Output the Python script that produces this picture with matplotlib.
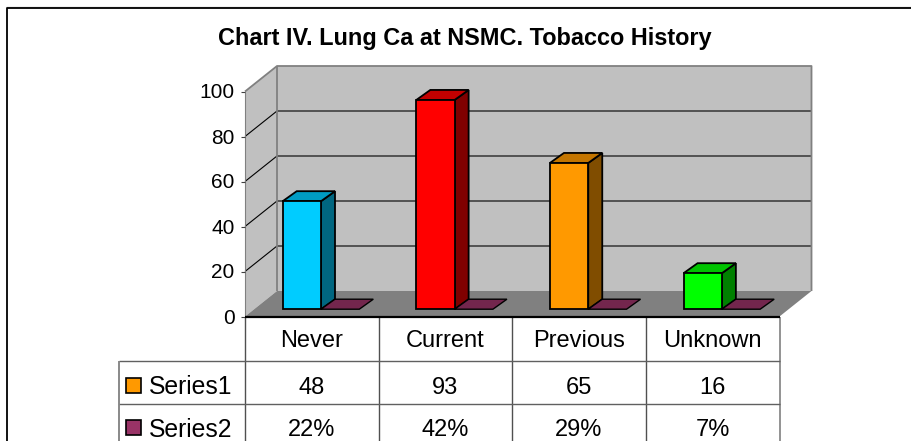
#!/usr/bin/env python3

import matplotlib
matplotlib.use('Agg')
import matplotlib.pyplot as plt
from matplotlib.patches import Polygon, Rectangle

title = 'Chart IV. Lung Ca at NSMC. Tobacco History'
categories = ['Never', 'Current', 'Previous', 'Unknown']
series1 = [48, 93, 65, 16]
series2 = [22, 42, 29, 7]
series_names = ['Series1', 'Series2']
y_ticks = [0, 20, 40, 60, 80, 100]

front_colors = ['#00ccff', '#ff0000', '#ff9900', '#00ff00']
top_colors = ['#009cc3', '#c30000', '#c37500', '#00c300']
side_colors = ['#006680', '#800000', '#804d00', '#008000']

W, H = 912, 441
plt.rcParams['font.family'] = ['Liberation Sans', 'DejaVu Sans']

fig = plt.figure(figsize=(W / 100, H / 100), dpi=100)

# frame is drawn in figure pixels
bg = fig.add_axes([0, 0, 1, 1])
bg.set_xlim(0, W)
bg.set_ylim(H, 0)
bg.axis('off')
bg.plot([7, 912], [7, 7], color='#c0c0c0', lw=1)
bg.plot([7, 7, 912], [441, 8, 8], color='black', lw=1.3)

# main axes is the front plane of the 3D box
left, right, y0, y100 = 245, 779.5, 316.5, 91.5
ax = fig.add_axes([left / W, 1 - y0 / H, (right - left) / W, (y0 - y100) / H])
ax.set_xlim(0, 4)
ax.set_ylim(0, 100)
ax.axis('off')

ux = (right - left) / 4
uy = (y0 - y100) / 100
DX = 32 / ux
DY = 25.5 / uy
bar_x = 37.7 / ux
bar_w = 38.3 / ux
bar_y = 7.3 / uy
bar_dx = 14 / ux
bar_dy = 10 / uy


def poly(pts, fc, ec='none', lw=0, z=1):
    ax.add_patch(Polygon(pts, closed=True, fc=fc, ec=ec, lw=lw, zorder=z,
                         clip_on=False, joinstyle='miter'))


def line(xs, ys, c='black', lw=1, z=2):
    ax.plot(xs, ys, color=c, lw=lw, zorder=z, clip_on=False,
            solid_capstyle='butt')


# walls and floor
poly([(DX, DY), (4 + DX, DY), (4 + DX, 100 + DY), (DX, 100 + DY)], '#c0c0c0')
poly([(0, 0), (DX, DY), (DX, 100 + DY), (0, 100)], '#c0c0c0')
poly([(0, 0), (4, 0), (4 + DX, DY), (DX, DY)], '#808080')

# gridlines
for t in y_ticks[1:-1]:
    line([0, DX, 4 + DX], [t, t + DY, t + DY], lw=0.8)
line([0, DX, 4 + DX, 4 + DX], [100, 100 + DY, 100 + DY, DY], c='#808080', lw=1.3)
line([DX, DX], [DY, 100 + DY], c='#808080', lw=1.3)

# y axis and ticks
line([0, 0], [0, 100], c='#808080', lw=0.8, z=3)
for t in y_ticks:
    line([-4 / ux, 0], [t, t], c='#404040', lw=0.8, z=3)
    ax.text(-10.5 / ux, t - 1.5 / uy, str(t), ha='right', va='center', fontsize=15)

# bars
for i, v in enumerate(series1):
    x0 = i + bar_x
    x1 = x0 + bar_w
    b = bar_y
    t = bar_y + v
    poly([(x1, b), (x1 + bar_dx, b + bar_dy), (x1 + bar_dx, t + bar_dy), (x1, t)],
         side_colors[i], 'black', 1.3, 5)
    poly([(x0, t), (x1, t), (x1 + bar_dx, t + bar_dy), (x0 + bar_dx, t + bar_dy)],
         top_colors[i], 'black', 1.3, 5)
    poly([(x0, b), (x1, b), (x1, t), (x0, t)], front_colors[i], 'black', 1.3, 6)
    # second series is flat on the floor
    x2 = x1 + bar_w
    poly([(x1, b), (x2, b), (x2 + bar_dx, b + bar_dy), (x1 + bar_dx, b + bar_dy)],
         '#73264d', 'black', 1.0, 5)

# data table
row1 = -44.5 / uy
row2 = -87.5 / uy
tbl_bottom = -(H - y0 + 2) / uy
tbl_left = -126 / ux
text_y = [-24.5 / uy, -71 / uy, -113.5 / uy]
key_y = [-68.5 / uy, -111 / uy]

line([0, 4], [0, 0], lw=1.6, z=4)
for k in range(4):
    line([k, k], [0, tbl_bottom], c='#505050', lw=1)
line([4, 4], [0, tbl_bottom], c='#808080', lw=1.2)
line([tbl_left, 4], [row1, row1], c='#606060', lw=1)
line([tbl_left, 4], [row2, row2], c='#606060', lw=1)
line([tbl_left, tbl_left], [row1, tbl_bottom], c='#808080', lw=1.3)

for k, name in enumerate(categories):
    ax.text(k + 0.5, text_y[0], name, ha='center', va='center', fontsize=17)
    ax.text(k + 0.5, text_y[1], str(series1[k]), ha='center', va='center', fontsize=17)
    ax.text(k + 0.5, text_y[2], '%d%%' % series2[k], ha='center', va='center', fontsize=17)

key_colors = ['#ff9900', '#993366']
for name, c, ky, ty in zip(series_names, key_colors, key_y, text_y[1:]):
    ax.add_patch(Rectangle((tbl_left + 7.5 / ux, ky - 7.5 / uy), 15 / ux, 15 / uy, fc=c,
                           ec='black', lw=1.2, clip_on=False, zorder=5))
    ax.text(tbl_left + 30 / ux, ty, name, ha='left', va='center', fontsize=17.8)

bg.text(464.5, 39, title, ha='center', va='center', fontsize=16.9, fontweight='bold')

fig.savefig('out.png', dpi=100)
